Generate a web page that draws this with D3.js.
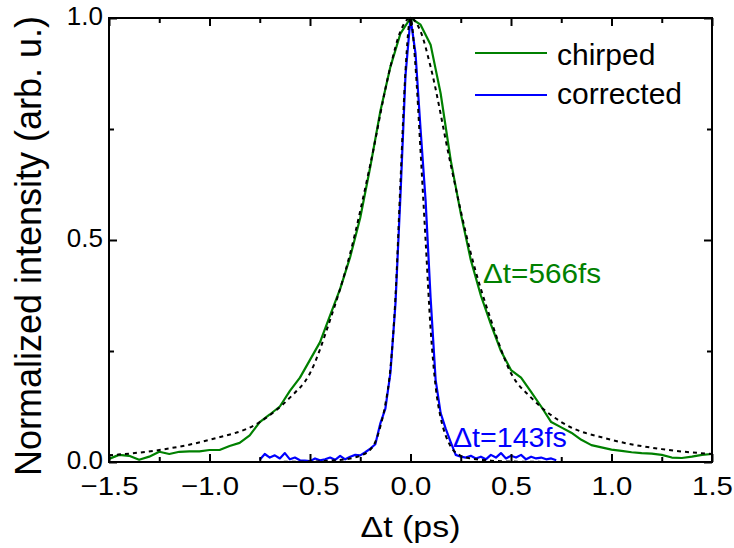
<!DOCTYPE html>
<html><head><meta charset="utf-8">
<script src="https://cdn.jsdelivr.net/npm/d3@7"></script>
<style>
body{margin:0;background:#fff;}
text{font-family:"Liberation Sans",Arial,sans-serif;}
</style></head>
<body><svg id="c" width="734" height="548"></svg>
<script>
// ---- data ----
const chirpedX = [-1.5,-1.45,-1.4,-1.35,-1.3,-1.25,-1.2,-1.15,-1.1,-1.05,-1.0,-0.95,-0.9,-0.85,-0.8,-0.75,-0.7,-0.65,-0.6,-0.55,-0.5,-0.45,-0.4,-0.35,-0.3,-0.25,-0.2,-0.15,-0.1,-0.05,0.0,0.05,0.1,0.15,0.2,0.25,0.3,0.35,0.4,0.45,0.5,0.55,0.6,0.65,0.7,0.75,0.8,0.85,0.9,0.95,1.0,1.05,1.1,1.15,1.2,1.25,1.3,1.35,1.4,1.45,1.5];
const chirpedY = [0.007,0.016,0.014,0.005,0.012,0.023,0.018,0.023,0.024,0.024,0.027,0.027,0.036,0.043,0.06,0.09,0.107,0.125,0.16,0.19,0.23,0.27,0.33,0.39,0.462,0.55,0.665,0.79,0.89,0.965,1.0,0.985,0.94,0.83,0.68,0.56,0.455,0.375,0.31,0.25,0.207,0.19,0.158,0.125,0.09,0.078,0.066,0.05,0.038,0.033,0.028,0.025,0.022,0.02,0.019,0.016,0.01,0.009,0.012,0.016,0.018];
const chirpedFitX = [-1.5,-1.25,-1.0,-0.75,-0.6,-0.5,-0.4,-0.3,-0.2,-0.1,-0.05,0,0.05,0.1,0.2,0.3,0.4,0.5,0.6,0.75,1.0,1.25,1.5];
const chirpedFitY = [0.015,0.027,0.05,0.09,0.145,0.2,0.32,0.47,0.67,0.89,0.97,1.0,0.97,0.89,0.67,0.47,0.32,0.2,0.145,0.09,0.05,0.029,0.018];
const correctedX = [-0.75,-0.725,-0.7,-0.675,-0.65,-0.625,-0.6,-0.575,-0.55,-0.525,-0.5,-0.475,-0.45,-0.425,-0.4,-0.375,-0.35,-0.325,-0.3,-0.275,-0.25,-0.225,-0.2,-0.175,-0.15,-0.125,-0.1,-0.075,-0.05,-0.025,0.0,0.025,0.05,0.075,0.1,0.125,0.15,0.175,0.2,0.225,0.25,0.275,0.3,0.325,0.35,0.375,0.4,0.425,0.45,0.475,0.5,0.525,0.55,0.575,0.6,0.625,0.65,0.675,0.7,0.725];
const correctedY = [0.005,0.018,0.010,0.015,0.008,0.020,0.006,0.010,0.004,0.003,0.002,0.008,0.004,0.006,0.010,0.005,0.014,0.006,0.012,0.016,0.015,0.022,0.030,0.040,0.087,0.12,0.20,0.355,0.60,0.87,1.0,0.92,0.75,0.59,0.37,0.185,0.11,0.075,0.045,0.016,0.012,0.010,0.014,0.008,0.012,0.006,0.016,0.010,0.020,0.008,0.014,0.010,0.016,0.006,0.012,0.008,0.010,0.006,0.008,0.004];
const correctedFitX = [-0.75,-0.5,-0.4,-0.3,-0.25,-0.2,-0.175,-0.15,-0.125,-0.1,-0.075,-0.05,-0.025,0,0.025,0.05,0.075,0.1,0.125,0.15,0.175,0.2,0.25,0.3,0.4,0.5,0.75];
const correctedFitY = [0.0,0.001,0.003,0.008,0.014,0.028,0.045,0.08,0.13,0.21,0.37,0.63,0.88,1.0,0.89,0.7,0.5,0.3,0.17,0.1,0.06,0.035,0.014,0.008,0.003,0.001,0.0];
const xMajor = [-1.5,-1.0,-0.5,0.0,0.5,1.0,1.5];
const xMinor = [-1.25,-0.75,-0.25,0.25,0.75,1.25];
const yMajor = [0.0,0.5,1.0];
const yMinor = [0.25,0.75];
const seriesNames = ["chirped","corrected"];
const annotations = ["\u0394t=566fs","\u0394t=143fs"];

// ---- layout ----
const svg = d3.select("#c");
const L=109,R=712,T=18,B=462;
const x = d3.scaleLinear().domain([-1.5,1.5]).range([L,R]);
const y = d3.scaleLinear().domain([0,1]).range([B,T]);
const GREEN="#008000", BLUE="#0000ff";

const zip=(xs,ys)=>xs.map((v,i)=>[v,ys[i]]);
const line=d3.line().x(d=>x(d[0])).y(d=>y(d[1]));

const plot=svg.append("g");
plot.append("path").datum(zip(chirpedX,chirpedY)).attr("d",line)
  .attr("fill","none").attr("stroke",GREEN).attr("stroke-width",2.2).attr("stroke-linejoin","round");
plot.append("path").datum(zip(correctedX,correctedY)).attr("d",line.curve(d3.curveLinear))
  .attr("fill","none").attr("stroke",BLUE).attr("stroke-width",2.2).attr("stroke-linejoin","round");
const fitLine=d3.line().x(d=>x(d[0])).y(d=>y(d[1])).curve(d3.curveMonotoneX);
plot.append("path").datum(zip(chirpedFitX,chirpedFitY)).attr("d",fitLine)
  .attr("fill","none").attr("stroke","#000").attr("stroke-width",2).attr("stroke-dasharray","4,4");
plot.append("path").datum(zip(correctedFitX,correctedFitY)).attr("d",fitLine)
  .attr("fill","none").attr("stroke","#000").attr("stroke-width",2).attr("stroke-dasharray","4,4");

// ---- axes (inward ticks on all sides) ----
function styleAxis(g){g.select(".domain").remove();g.selectAll("line").attr("stroke","#000").attr("stroke-width",2);}
const maj=8, mnr=5;
// bottom
const gB=svg.append("g").attr("transform",`translate(0,${B})`)
  .call(d3.axisBottom(x).tickValues(xMajor).tickSizeInner(-maj).tickSizeOuter(0).tickFormat(d3.format(".1f")));
styleAxis(gB);
gB.selectAll("text").attr("y",33).attr("dy",0).attr("fill","#000")
  .style("font-size","26px").attr("transform","scale(1.13,1)");
svg.append("g").attr("transform",`translate(0,${B})`)
  .call(d3.axisBottom(x).tickValues(xMinor).tickSizeInner(-mnr).tickSizeOuter(0).tickFormat(""))
  .call(styleAxis);
// top
svg.append("g").attr("transform",`translate(0,${T})`)
  .call(d3.axisTop(x).tickValues(xMajor).tickSizeInner(-maj).tickSizeOuter(0).tickFormat("")).call(styleAxis);
svg.append("g").attr("transform",`translate(0,${T})`)
  .call(d3.axisTop(x).tickValues(xMinor).tickSizeInner(-mnr).tickSizeOuter(0).tickFormat("")).call(styleAxis);
// left
const gL=svg.append("g").attr("transform",`translate(${L},0)`)
  .call(d3.axisLeft(y).tickValues(yMajor).tickSizeInner(-maj).tickSizeOuter(0).tickFormat(d3.format(".1f")));
styleAxis(gL);
gL.selectAll("text").attr("x",-6).attr("dy","0.25em").attr("fill","#000").style("font-size","26px");
svg.append("g").attr("transform",`translate(${L},0)`)
  .call(d3.axisLeft(y).tickValues(yMinor).tickSizeInner(-mnr).tickSizeOuter(0).tickFormat("")).call(styleAxis);
// right
svg.append("g").attr("transform",`translate(${R},0)`)
  .call(d3.axisRight(y).tickValues(yMajor).tickSizeInner(-maj).tickSizeOuter(0).tickFormat("")).call(styleAxis);
svg.append("g").attr("transform",`translate(${R},0)`)
  .call(d3.axisRight(y).tickValues(yMinor).tickSizeInner(-mnr).tickSizeOuter(0).tickFormat("")).call(styleAxis);
// frame
svg.append("rect").attr("x",L).attr("y",T).attr("width",R-L).attr("height",B-T)
  .attr("fill","none").attr("stroke","#000").attr("stroke-width",2);

// ---- titles ----
svg.append("text").attr("transform",`translate(${(L+R)/2},537) scale(1.13,1)`).attr("text-anchor","middle")
  .style("font-size","30px").attr("fill","#000").text("\u0394t (ps)");
svg.append("text").attr("transform",`translate(41,${(T+B)/2+6}) rotate(-90)`).attr("text-anchor","middle")
  .style("font-size","36px").attr("fill","#000").text("Normalized intensity (arb. u.)");

// ---- legend ----
const leg=svg.append("g");
[[GREEN,53,65],[BLUE,95,104]].forEach((c,i)=>{
  leg.append("line").attr("x1",475).attr("x2",547).attr("y1",c[1]).attr("y2",c[1]).attr("stroke",c[0]).attr("stroke-width",2.2);
  leg.append("text").attr("x",557).attr("y",c[2]).style("font-size","30px").attr("fill","#000").text(seriesNames[i]);
});

// ---- annotations ----
svg.append("text").attr("transform","translate(483,283) scale(1.1,1)").style("font-size","27px").attr("fill",GREEN).text(annotations[0]);
svg.append("text").attr("transform","translate(453,447) scale(1.06,1)").style("font-size","27px").attr("fill",BLUE).text(annotations[1]);
</script></body></html>
